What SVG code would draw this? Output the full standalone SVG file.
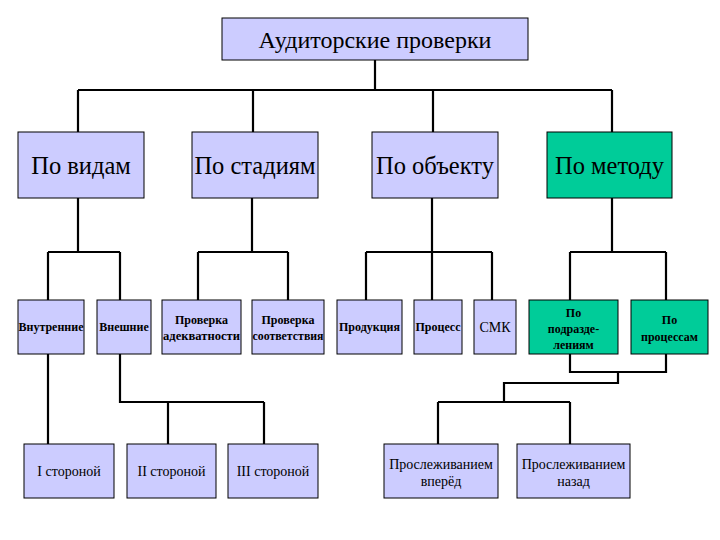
<svg xmlns="http://www.w3.org/2000/svg" width="720" height="540" viewBox="0 0 720 540">
<style>
.b{fill:#CCCCFF;stroke:#000;stroke-width:1}
.g{fill:#00CC99;stroke:#000;stroke-width:1}
.t{font-family:"Liberation Serif","DejaVu Serif","Times New Roman",serif;fill:#000;text-anchor:middle}
.big{font-size:24.5px}
.top{font-size:24px}
.sm{font-size:12px;font-weight:bold}
.md{font-size:14px}
.c{fill:none;stroke:#000;stroke-width:2.2}
</style>
<rect width="720" height="540" fill="#fff"/>
<g id="connectors">
<path class="c" d="M375,60V90M78,90H612M78,90V132M253,90V132M433,90V132M612,90V132"/>
<path class="c" d="M78,198V252M48,252H120M48,252V300M120,252V300"/>
<path class="c" d="M252,198V252M198,252H288M198,252V300M288,252V300"/>
<path class="c" d="M432,198V252M366,252H492M366,252V300M432,252V300M492,252V300"/>
<path class="c" d="M612,198V252M570,252H666M570,252V300M666,252V300"/>
<path class="c" d="M48,354V444M120,354V402H264M168,402V444M264,402V444"/>
<path class="c" d="M570,354V372H666V354M618,372V383H504V402M438,402H570M438,402V444M570,402V444"/>
</g>
<g id="root"><rect class="b" x="222" y="18" width="306" height="42"/><text class="t top" x="375" y="48">Аудиторские проверки</text></g>
<g id="po-vidam"><rect class="b" x="18" y="132" width="126" height="66"/><text class="t big" x="81" y="174">По видам</text></g>
<g id="po-stadiyam"><rect class="b" x="192" y="132" width="126" height="66"/><text class="t big" x="255" y="174">По стадиям</text></g>
<g id="po-obektu"><rect class="b" x="372" y="132" width="126" height="66"/><text class="t big" x="435" y="174">По объекту</text></g>
<g id="po-metodu"><rect class="g" x="547" y="132" width="125" height="66"/><text class="t big" x="609.5" y="174">По методу</text></g>
<g id="vnutrennie"><rect class="b" x="18" y="300" width="66" height="54"/><text class="t sm" x="51" y="331" textLength="65" lengthAdjust="spacingAndGlyphs">Внутренние</text></g>
<g id="vneshnie"><rect class="b" x="97" y="300" width="54" height="54"/><text class="t sm" x="124" y="331">Внешние</text></g>
<g id="adekvatnosti"><rect class="b" x="162" y="300" width="79" height="54"/><text class="t sm" x="201.5" y="324">Проверка</text><text class="t sm" x="201.5" y="340" textLength="77" lengthAdjust="spacingAndGlyphs">адекватности</text></g>
<g id="sootvetstviya"><rect class="b" x="252" y="300" width="72" height="54"/><text class="t sm" x="288" y="324">Проверка</text><text class="t sm" x="288" y="340" textLength="71" lengthAdjust="spacingAndGlyphs">соответствия</text></g>
<g id="produktsiya"><rect class="b" x="337" y="300" width="65" height="54"/><text class="t sm" x="369.5" y="331">Продукция</text></g>
<g id="protsess"><rect class="b" x="414" y="300" width="48" height="54"/><text class="t sm" x="438" y="331">Процесс</text></g>
<g id="smk"><rect class="b" x="474" y="300" width="42" height="54"/><text class="t md" x="495" y="332">СМК</text></g>
<g id="po-podrazdeleniyam"><rect class="g" x="529" y="300" width="89" height="54"/><text class="t sm" x="573.5" y="317">По</text><text class="t sm" x="573.5" y="333">подразде-</text><text class="t sm" x="573.5" y="349">лениям</text></g>
<g id="po-protsessam"><rect class="g" x="631" y="300" width="77" height="54"/><text class="t sm" x="669.5" y="324">По</text><text class="t sm" x="669.5" y="341">процессам</text></g>
<g id="storona1"><rect class="b" x="24" y="444" width="90" height="54"/><text class="t md" x="69" y="476">I стороной</text></g>
<g id="storona2"><rect class="b" x="127" y="444" width="89" height="54"/><text class="t md" x="171.5" y="476">II стороной</text></g>
<g id="storona3"><rect class="b" x="228" y="444" width="90" height="54"/><text class="t md" x="273" y="476">III стороной</text></g>
<g id="vpered"><rect class="b" x="384" y="444" width="114" height="54"/><text class="t md" x="441" y="469">Прослеживанием</text><text class="t md" x="441" y="486">вперёд</text></g>
<g id="nazad"><rect class="b" x="517" y="444" width="113" height="54"/><text class="t md" x="573.5" y="469">Прослеживанием</text><text class="t md" x="573.5" y="486">назад</text></g>
</svg>
